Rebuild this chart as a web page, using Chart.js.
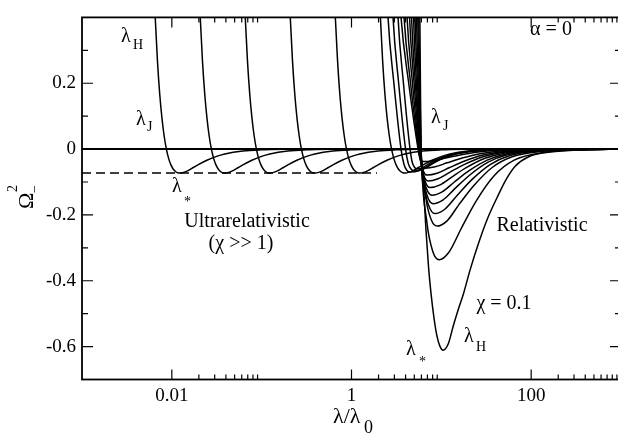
<!DOCTYPE html>
<html><head><meta charset="utf-8">
<script src="https://cdn.jsdelivr.net/npm/chart.js@4/dist/chart.umd.min.js"></script>
<style>
html,body{margin:0;padding:0;background:#fff;overflow:hidden;width:618px;height:440px}
#wrap{width:618px;height:440px;overflow:hidden;position:relative}
canvas{display:block}
</style></head><body><div id="wrap"><canvas id="c" width="640" height="440"></canvas></div>
<script>
// ---- axis ticks ----
const xTickValues = [0.01, 1, 100];
const xTickLabels = ['0.01', '1', '100'];
const xMinorTicks = [0.02,0.03,0.04,0.05,0.06,0.07,0.08,0.09, 2,3,4,5,6,7,8,9, 200,300,400,500,600,700,800,900];
const yTickValues = [-0.6, -0.4, -0.2, 0, 0.2];
const yTickLabels = ['-0.6', '-0.4', '-0.2', '0', '0.2'];
const yMinorTicks = [-0.5, -0.3, -0.1, 0.1, 0.3];

// ---- ultrarelativistic family (chi >> 1): common profile ----
const ultraOffset = [-0.36,-0.30,-0.275,-0.25,-0.225,-0.2,-0.175,-0.15,-0.125,-0.1,-0.075,-0.05,-0.025,0,0.05,0.1,0.15,0.2,0.3,0.4,0.5,0.7,0.9,1.2,1.6,2.2];
const ultraOmega  = [1.24,0.576,0.401,0.268,0.168,0.094,0.039,-0.001,-0.029,-0.048,-0.0605,-0.068,-0.072,-0.073,-0.070,-0.064,-0.056,-0.048,-0.034,-0.023,-0.015,-0.006,-0.0024,-0.0006,-0.0001,0];
const ultraStar = [0.0123, 0.039, 0.1236, 0.392, 1.244, 3.95];
const ultraMinLevel = -0.073;
const dashedEnd = 1.92;

// ---- intermediate curves: [lambda/lambda0, Omega^2] ----
const int1 = [[2.380,0.6],[2.551,0.4],[2.964,0.2],[3.560,0],[3.836,-0.046],[4.143,-0.065],[4.486,-0.07],[5.651,-0.065],[6.763,-0.05],[8.74,-0.033],[12.52,-0.017],[19.86,-0.007],[39.7,-0.002],[126,-0.0004],[1000,0]];
const int2 = [[2.713,0.6],[2.900,0.4],[3.349,0.2],[3.998,0],[4.282,-0.0436],[4.615,-0.0614],[4.971,-0.066],[6.262,-0.0614],[7.494,-0.0475],[9.685,-0.031],[13.87,-0.0158],[22.01,-0.0066],[44.0,-0.002],[139.6,-0.0004],[1000,0]];
const int3 = [[3.093,0.6],[3.297,0.4],[3.787,0.2],[4.486,0],[4.746,-0.04],[5.048,-0.056],[5.369,-0.06],[6.763,-0.056],[8.09,-0.043],[10.46,-0.028],[14.98,-0.0144],[23.77,-0.006],[47.5,-0.0018],[150.8,-0.0004],[1000,0]];

// ---- relativistic family ----
const rel1 = [[3.246,0.6],[3.560,0.4],[4.334,0.2],[5.508,0],[5.739,-0.025],[5.995,-0.0353],[6.262,-0.038],[8.09,-0.0353],[11.01,-0.0274],[16.18,-0.0179],[25.67,-0.0091],[42.9,-0.0038],[92.6,-0.0011],[293.8,-0.0002],[1000,0]];
const rel2 = [[3.560,0.6],[3.846,0.4],[4.544,0.2],[5.579,0],[5.888,-0.0383],[6.229,-0.054],[6.592,-0.058],[8.52,-0.054],[11.59,-0.0418],[17.03,-0.0273],[27.03,-0.0139],[45.14,-0.0058],[97.5,-0.0017],[309.3,-0.0003],[1000,0]];
const rel3 = [[3.895,0.6],[4.154,0.4],[4.771,0.2],[5.651,0],[6.041,-0.052],[6.474,-0.0735],[6.939,-0.079],[8.968,-0.0735],[12.20,-0.0569],[17.92,-0.0371],[28.44,-0.019],[47.5,-0.0079],[102.6,-0.0024],[325.5,-0.0005],[1000,0]];
const rel4 = [[4.197,0.6],[4.429,0.4],[4.971,0.2],[5.724,0],[6.135,-0.064],[6.609,-0.09],[7.119,-0.097],[9.201,-0.09],[12.52,-0.0698],[18.39,-0.0456],[29.18,-0.0233],[48.75,-0.0097],[105.3,-0.0029],[333.9,-0.0006],[1000,0]];
const rel5 = [[4.452,0.6],[4.662,0.4],[5.139,0.2],[5.798,0],[6.294,-0.0772],[6.867,-0.1088],[7.494,-0.117],[9.685,-0.1088],[13.18,-0.0842],[19.36,-0.055],[30.73,-0.0281],[51.3,-0.0117],[110.8,-0.0035],[352,-0.0007],[1000,0]];
const rel6 = [[4.733,0.6],[4.906,0.4],[5.286,0.2],[5.798,0],[6.392,-0.0924],[7.100,-0.130],[7.889,-0.14],[10.19,-0.130],[13.87,-0.1008],[20.38,-0.0658],[32.35,-0.0336],[54.0,-0.014],[116.7,-0.0042],[370,-0.0008],[1000,0]];
const rel7 = [[4.945,0.6],[5.100,0.4],[5.438,0.2],[5.873,0],[6.508,-0.1096],[7.256,-0.154],[8.09,-0.166],[10.46,-0.154],[14.23,-0.1195],[20.91,-0.078],[33.19,-0.0398],[55.4,-0.0166],[119.7,-0.005],[379.7,-0.001],[1000,0]];
const rel8 = [[5.192,0.6],[5.299,0.4],[5.551,0.2],[5.873,0],[6.609,-0.129],[7.513,-0.182],[8.52,-0.196],[11.01,-0.182],[14.98,-0.141],[22.01,-0.092],[34.94,-0.047],[58.3,-0.0196],[126,-0.0059],[399.6,-0.0012],[1000,0]];
const rel9 = [[5.369,0.6],[5.466,0.4],[5.680,0.2],[5.949,0],[6.780,-0.154],[7.808,-0.218],[8.968,-0.234],[11.59,-0.218],[15.77,-0.168],[23.17,-0.11],[36.78,-0.056],[61.4,-0.0234],[132.6,-0.007],[420.7,-0.0014],[1000,0]];
const rel10 = [[5.537,0.6],[5.608,0.4],[5.753,0.2],[5.949,0],[6.902,-0.222],[8.072,-0.3125],[9.439,-0.336],[12.20,-0.3125],[16.60,-0.242],[24.39,-0.158],[38.7,-0.081],[64.65,-0.0336],[139.6,-0.010],[442.9,-0.002],[1000,0]];
const chi01 = [[5.708,0.55],[5.829,0.25],[5.949,0],[6.342,-0.12],[6.763,-0.25],[7.211,-0.36],[7.687,-0.44],[8.303,-0.515],[8.968,-0.57],[9.685,-0.6],[10.46,-0.611],[11.89,-0.593],[13.62,-0.536],[15.37,-0.489],[17.61,-0.44],[20.91,-0.367],[25.67,-0.29],[32.35,-0.214],[41.8,-0.147],[52.7,-0.092],[66.4,-0.052],[92.6,-0.024],[163,-0.009],[379.7,-0.002],[1000,0]];
const bundle = [int1, int2, int3, rel1, rel2, rel3, rel4, rel5, rel6, rel7, rel8, rel9, rel10, chi01];

const FONT = '"Liberation Serif", "Times New Roman", serif';

function lineDs(data, extra) {
  return Object.assign({
    data: data, showLine: true, pointRadius: 0, borderColor: '#000',
    backgroundColor: '#000', borderWidth: 1.5, fill: false,
    cubicInterpolationMode: 'monotone'
  }, extra || {});
}

const datasets = [];
datasets.push(lineDs([{x:0.001,y:0},{x:1000,y:0}], {borderWidth: 2, cubicInterpolationMode: 'default', tension: 0}));
datasets.push(lineDs([{x:0.001,y:ultraMinLevel},{x:dashedEnd,y:ultraMinLevel}], {borderDash:[9,5], cubicInterpolationMode: 'default', tension: 0}));
ultraStar.forEach(s => {
  datasets.push(lineDs(ultraOffset.map((u,i) => ({x: s * Math.pow(10,u), y: ultraOmega[i]}))));
});
bundle.forEach(c => datasets.push(lineDs(c.map(p => ({x:p[0], y:p[1]})))));

const decor = {
  id: 'decor',
  afterDatasetsDraw(chart) {
    const ctx = chart.ctx, a = chart.chartArea;
    const xs = chart.scales.x, ys = chart.scales.y;
    ctx.save();
    ctx.strokeStyle = '#000';
    ctx.lineWidth = 1.8;
    ctx.strokeRect(a.left, a.top, a.right - a.left, a.bottom - a.top);
    ctx.lineWidth = 1.2;
    ctx.beginPath();
    const tick = (vals, len) => {
      vals.forEach(v => {
        const px = xs.getPixelForValue(v);
        ctx.moveTo(px, a.bottom); ctx.lineTo(px, a.bottom - len);
        ctx.moveTo(px, a.top); ctx.lineTo(px, a.top + len);
      });
    };
    const ytick = (vals, len) => {
      vals.forEach(v => {
        const py = ys.getPixelForValue(v);
        ctx.moveTo(a.left, py); ctx.lineTo(a.left + len, py);
        ctx.moveTo(a.right, py); ctx.lineTo(a.right - len, py);
      });
    };
    tick(xTickValues, 10); tick(xMinorTicks, 5);
    ytick(yTickValues, 11); ytick(yMinorTicks, 6);
    ctx.stroke();

    ctx.fillStyle = '#000';
    ctx.textBaseline = 'alphabetic';
    const txt = (s, x, y, size, align) => {
      ctx.font = size + 'px ' + FONT;
      ctx.textAlign = align || 'left';
      ctx.fillText(s, x, y);
    };
    txt('\u03bb', 121, 42, 20); txt('H', 133, 49, 14);
    txt('\u03bb', 136, 125, 20); txt('J', 147, 131, 14);
    txt('\u03bb', 172, 192, 20); txt('*', 184, 206, 14);
    txt('Ultrarelativistic', 247, 227, 20, 'center');
    txt('(\u03c7 >> 1)', 241, 249, 20, 'center');
    txt('Relativistic', 542, 231, 20, 'center');
    txt('\u03b1 = 0', 551, 35, 20, 'center');
    txt('\u03bb', 431, 123, 20); txt('J', 443, 130, 14);
    txt('\u03c7 = 0.1', 504, 309, 20, 'center');
    txt('\u03bb', 464, 342, 20); txt('H', 476, 351, 14);
    txt('\u03bb', 406, 355, 20); txt('*', 419, 366, 14);

    txt('\u03bb/\u03bb', 333, 423, 22); txt('0', 364, 433, 18);
    ctx.save();
    ctx.translate(33, 209);
    ctx.rotate(-Math.PI/2);
    txt('\u03a9', 0, 0, 22);
    txt('2', 17, -16, 14);
    txt('\u2212', 16, 6, 14);
    ctx.restore();
    ctx.restore();
  }
};

new Chart(document.getElementById('c'), {
  type: 'scatter',
  data: { datasets },
  options: {
    responsive: false, animation: false,
    layout: { padding: { left: 0, top: 3, right: 19, bottom: 0 } },
    plugins: { legend: { display: false }, tooltip: { enabled: false } },
    scales: {
      x: {
        type: 'logarithmic', min: 0.001, max: 1000,
        grid: { display: false, drawTicks: false }, border: { display: false },
        afterBuildTicks: s => { s.ticks = xTickValues.map(v => ({ value: v })); },
        afterFit: s => { s.height = 60.5; },
        ticks: {
          autoSkip: false, maxRotation: 0, padding: 5, color: '#000',
          font: { family: FONT, size: 19 },
          callback: v => { const i = xTickValues.indexOf(v); return i >= 0 ? xTickLabels[i] : ''; }
        }
      },
      y: {
        type: 'linear', min: -0.7, max: 0.4,
        grid: { display: false, drawTicks: false }, border: { display: false },
        afterBuildTicks: s => { s.ticks = yTickValues.map(v => ({ value: v })); },
        afterFit: s => { s.width = 82; },
        ticks: {
          autoSkip: false, padding: 6, color: '#000',
          font: { family: FONT, size: 19 },
          callback: v => { const i = yTickValues.findIndex(t => Math.abs(t - v) < 1e-9); return i >= 0 ? yTickLabels[i] : ''; }
        }
      }
    }
  },
  plugins: [decor]
});
</script></body></html>
